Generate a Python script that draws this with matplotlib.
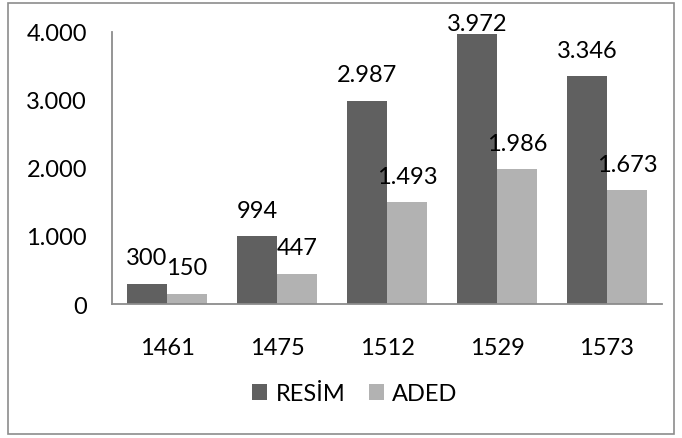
import numpy as np
import matplotlib.pyplot as plt
from matplotlib.patches import Rectangle
from matplotlib.ticker import FuncFormatter

plt.rcParams['font.family'] = ['Lato', 'DejaVu Sans']

years = ['1461', '1475', '1512', '1529', '1573']
resim = [300, 994, 2987, 3972, 3346]
aded = [150, 447, 1493, 1986, 1673]


def tr_fmt(v):
    # turkish style thousands separator
    return '{:,.0f}'.format(v).replace(',', '.')


fig = plt.figure(figsize=(6.82, 4.39), dpi=100)
fig.patches.append(Rectangle((8 / 682, 4 / 439), 666 / 682, 431 / 439, transform=fig.transFigure,
                             fill=False, edgecolor='#8c8c8c', linewidth=1.2))
ax = fig.add_axes([112 / 682, 134 / 439, 550 / 682, 272 / 439])

x = np.arange(len(years))
w = 40 / 110
b1 = ax.bar(x - w / 2, resim, w, color='#606060', label='RESİM')
b2 = ax.bar(x + w / 2, aded, w, color='#b2b2b2', label='ADED')

fs = 17
ymax = 4000
for bars, vals in ((b1, resim), (b2, aded)):
    for r, v in zip(bars, vals):
        # excel pulls the label down when it would leave the chart
        off = 3 if v > 0.95 * ymax else 14
        ax.annotate(tr_fmt(v), (r.get_x() + r.get_width() / 2, v), xytext=(0, off),
                    textcoords='offset points', ha='center', va='baseline',
                    fontsize=fs, annotation_clip=False)

ax.set_xlim(-0.5, len(years) - 0.5)
ax.set_ylim(0, ymax)
ax.set_yticks([0, 1000, 2000, 3000, 4000])
ax.yaxis.set_major_formatter(FuncFormatter(lambda v, p: tr_fmt(v)))
ax.set_xticks(x)
ax.set_xticklabels(years)
ax.tick_params(axis='y', length=0, pad=18, labelsize=fs)
ax.tick_params(axis='x', length=0, pad=24, labelsize=fs)
for s in ('top', 'right'):
    ax.spines[s].set_visible(False)
for s in ('left', 'bottom'):
    ax.spines[s].set_color('#8c8c8c')
    ax.spines[s].set_linewidth(1.3)

ax.legend(loc='center', bbox_to_anchor=(355 / 682, 44 / 439), bbox_transform=fig.transFigure,
          ncol=2, frameon=False, fontsize=fs, handlelength=0.63, handleheight=0.63,
          handletextpad=0.35, columnspacing=1.0)

fig.savefig('out.png', dpi=100)
